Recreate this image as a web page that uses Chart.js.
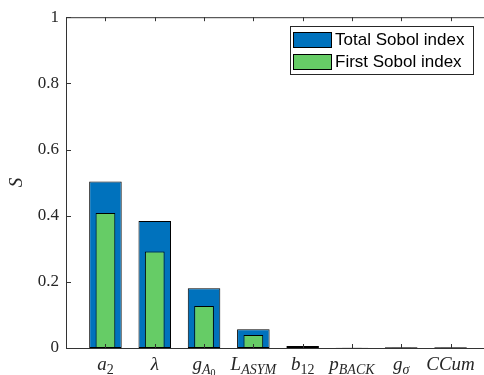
<!DOCTYPE html>
<html>
<head>
<meta charset="utf-8">
<script src="https://cdn.jsdelivr.net/npm/chart.js@4.4.0/dist/chart.umd.min.js"></script>
<style>
  html, body { margin: 0; padding: 0; background: #fff; overflow: hidden; }
  #wrap { width: 484px; height: 375px; overflow: hidden; }
</style>
</head>
<body>
<div id="wrap"><canvas id="chart" width="490" height="375"></canvas></div>
<script>
// data
const categories = ['a_2', 'λ', 'g_{A_0}', 'L_{ASYM}', 'b_{12}', 'p_{BACK}', 'g_σ', 'CCum'];
const totalIndex = [0.503, 0.384, 0.181, 0.057, 0.006, 0.001, 0.002, 0.002];
const firstIndex = [0.408, 0.292, 0.127, 0.039, 0.004, 0.0005, 0.001, 0.001];
const yTicks = [0, 0.2, 0.4, 0.6, 0.8, 1];
const seriesNames = ['Total Sobol index', 'First Sobol index'];

const AXIS = '#333333';
const SERIF = '"Liberation Serif", "Times New Roman", serif';
const SANS = '"Liberation Sans", Arial, sans-serif';

// tiny tex-ish parser: a_2, g_{A_0} -> list of chars with subscript level
function parseTex(str, level, out) {
  let i = 0;
  while (i < str.length) {
    const c = str[i];
    if (c === '_') {
      i++;
      let sub;
      if (str[i] === '{') {
        let depth = 1, j = i + 1;
        while (j < str.length && depth > 0) {
          if (str[j] === '{') depth++;
          else if (str[j] === '}') depth--;
          j++;
        }
        sub = str.slice(i + 1, j - 1);
        i = j;
      } else {
        sub = str[i];
        i++;
      }
      parseTex(sub, level + 1, out);
    } else {
      out.push({ ch: c, level: level });
      i++;
    }
  }
  return out;
}

const sizes = [19, 14, 10];
const drops = [0, 4, 6];
function charFont(p) {
  const italic = /[0-9]/.test(p.ch) ? '' : 'italic ';
  return italic + sizes[p.level] + 'px ' + SERIF;
}

const axesPlugin = {
  id: 'matlabAxes',
  afterDatasetsDraw(chart) {
    const { ctx, chartArea: a, scales: { x, y } } = chart;
    ctx.save();
    ctx.strokeStyle = AXIS;
    ctx.lineWidth = 1;
    ctx.beginPath();
    // box
    ctx.moveTo(a.left + 0.5, a.top + 0.5);
    ctx.lineTo(a.left + 0.5, a.bottom + 0.5);
    ctx.lineTo(a.right, a.bottom + 0.5);
    ctx.moveTo(a.left + 0.5, a.top + 0.5);
    ctx.lineTo(a.right, a.top + 0.5);
    // inward y ticks
    yTicks.forEach(v => {
      const py = Math.round(y.getPixelForValue(v)) + 0.5;
      ctx.moveTo(a.left, py);
      ctx.lineTo(a.left + 5, py);
    });
    // inward x ticks, bottom and top
    categories.forEach((c, i) => {
      const px = Math.round(x.getPixelForValue(i + 1)) + 0.5;
      ctx.moveTo(px, a.bottom);
      ctx.lineTo(px, a.bottom - 4);
      ctx.moveTo(px, a.top);
      ctx.lineTo(px, a.top + 4);
    });
    ctx.stroke();

    // category labels with subscripts
    ctx.fillStyle = '#262626';
    ctx.textBaseline = 'alphabetic';
    ctx.textAlign = 'left';
    const base = a.bottom + 22;
    categories.forEach((c, i) => {
      const parts = parseTex(c, 0, []);
      let w = 0;
      parts.forEach(p => { ctx.font = charFont(p); p.w = ctx.measureText(p.ch).width; w += p.w; });
      let cx = x.getPixelForValue(i + 1) - w / 2;
      parts.forEach(p => {
        ctx.font = charFont(p);
        ctx.fillText(p.ch, cx, base + drops[p.level]);
        cx += p.w;
      });
    });
    ctx.restore();
  },
  afterDraw(chart) {
    // boxed legend, top right
    const { ctx } = chart;
    const ds = chart.data.datasets;
    ctx.save();
    ctx.fillStyle = '#fff';
    ctx.strokeStyle = '#262626';
    ctx.lineWidth = 1;
    ctx.fillRect(290.5, 26.5, 183, 48);
    ctx.strokeRect(290.5, 26.5, 183, 48);
    ctx.font = '17px ' + SANS;
    ctx.textBaseline = 'middle';
    ctx.textAlign = 'left';
    [0, 1].forEach(k => {
      const top = 32.5 + k * 22;
      ctx.fillStyle = ds[k].backgroundColor;
      ctx.fillRect(293.5, top, 38, 15);
      ctx.strokeStyle = '#000';
      ctx.strokeRect(293.5, top, 38, 15);
      ctx.fillStyle = '#000';
      ctx.fillText(ds[k].label, 335, top + 8);
    });
    ctx.restore();
  }
};

const toPoints = arr => arr.map((v, i) => ({ x: i + 1, y: v }));

new Chart(document.getElementById('chart'), {
  type: 'bar',
  data: {
    datasets: [
      {
        label: seriesNames[0],
        data: toPoints(totalIndex),
        backgroundColor: '#0072BD',
        borderColor: '#000000',
        borderWidth: 1,
        borderSkipped: false,
        inflateAmount: 0,
        barPercentage: 0.825,
        categoryPercentage: 1,
        order: 1
      },
      {
        label: seriesNames[1],
        data: toPoints(firstIndex),
        backgroundColor: '#66CC66',
        borderColor: '#000000',
        borderWidth: 1,
        borderSkipped: false,
        inflateAmount: 0,
        barPercentage: 0.5,
        categoryPercentage: 1,
        order: 0
      }
    ]
  },
  options: {
    responsive: false,
    animation: false,
    devicePixelRatio: 1,
    grouped: false,
    layout: { padding: { top: 16, right: 0, left: 0, bottom: 0 } },
    plugins: {
      legend: { display: false },
      tooltip: { enabled: false }
    },
    scales: {
      x: {
        type: 'linear',
        min: 0.2,
        max: 8.8,
        offset: false,
        grid: { display: false, offset: false },
        border: { display: false },
        ticks: { display: false },
        afterFit(scale) { scale.height = 27; }
      },
      y: {
        min: 0,
        max: 1,
        grid: { display: false, drawTicks: false },
        border: { display: false },
        afterBuildTicks(scale) { scale.ticks = yTicks.map(v => ({ value: v })); },
        afterFit(scale) { scale.width = 66; },
        ticks: {
          padding: 7,
          color: '#262626',
          font: { family: SERIF, size: 17 },
          callback: v => String(v)
        },
        title: {
          display: true,
          text: 'S',
          color: '#262626',
          padding: { top: 6, bottom: 0 },
          font: { family: SERIF, size: 19, style: 'italic' }
        }
      }
    }
  },
  plugins: [axesPlugin]
});
</script>
</body>
</html>
